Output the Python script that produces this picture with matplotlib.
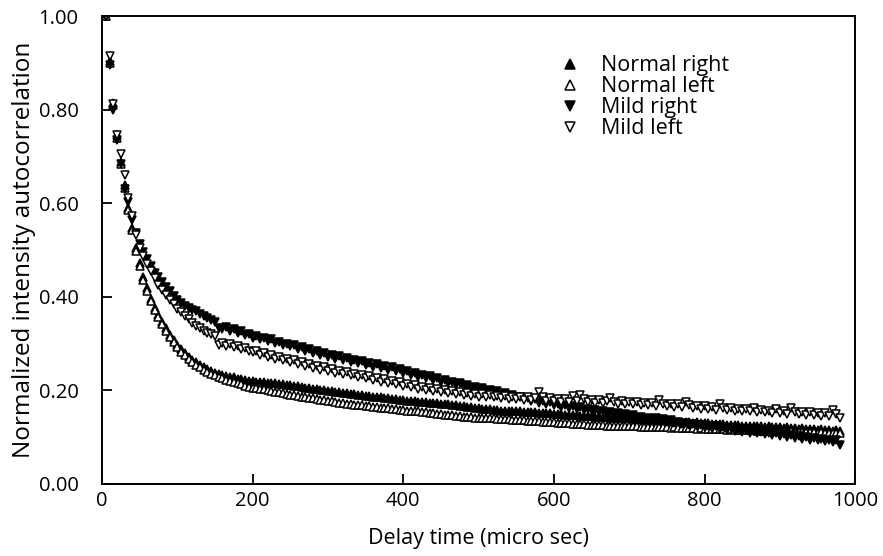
import numpy as np
import matplotlib
matplotlib.use("Agg")
import matplotlib.pyplot as plt

plt.rcParams['font.family'] = ['Open Sans', 'DejaVu Sans']

# delay times (micro sec), one sample every 5 us
delay = list(range(5, 985, 5))

normal_right = [
    1.000, 0.905, 0.815, 0.745, 0.688, 0.638, 0.590, 0.548, 0.505, 0.472,
    0.442, 0.418, 0.396, 0.377, 0.361, 0.346, 0.333, 0.319, 0.308, 0.297,
    0.288, 0.280, 0.272, 0.266, 0.260, 0.254, 0.250, 0.245, 0.241, 0.238,
    0.236, 0.233, 0.231, 0.229, 0.228, 0.225, 0.224, 0.222, 0.221, 0.220,
    0.219, 0.218, 0.218, 0.216, 0.215, 0.215, 0.213, 0.214, 0.212, 0.211,
    0.210, 0.209, 0.207, 0.206, 0.205, 0.203, 0.202, 0.201, 0.200, 0.199,
    0.198, 0.197, 0.196, 0.195, 0.194, 0.192, 0.192, 0.190, 0.190, 0.189,
    0.188, 0.187, 0.186, 0.185, 0.184, 0.183, 0.182, 0.181, 0.180, 0.179,
    0.178, 0.178, 0.177, 0.176, 0.176, 0.175, 0.174, 0.173, 0.173, 0.172,
    0.171, 0.170, 0.169, 0.168, 0.167, 0.166, 0.165, 0.164, 0.163, 0.162,
    0.161, 0.160, 0.160, 0.159, 0.158, 0.157, 0.157, 0.156, 0.156, 0.155,
    0.155, 0.154, 0.154, 0.153, 0.153, 0.152, 0.152, 0.151, 0.151, 0.150,
    0.150, 0.149, 0.148, 0.148, 0.147, 0.147, 0.146, 0.146, 0.145, 0.145,
    0.144, 0.144, 0.143, 0.143, 0.142, 0.142, 0.141, 0.141, 0.140, 0.140,
    0.139, 0.139, 0.138, 0.138, 0.137, 0.137, 0.136, 0.136, 0.135, 0.135,
    0.134, 0.134, 0.133, 0.133, 0.132, 0.133, 0.131, 0.132, 0.130, 0.131,
    0.130, 0.129, 0.129, 0.128, 0.128, 0.127, 0.127, 0.126, 0.126, 0.125,
    0.125, 0.124, 0.125, 0.123, 0.124, 0.122, 0.123, 0.121, 0.122, 0.121,
    0.120, 0.121, 0.119, 0.120, 0.118, 0.119, 0.117, 0.118, 0.117, 0.116,
    0.117, 0.115, 0.116, 0.114, 0.115, 0.113,
]

normal_left = [
    1.000, 0.900, 0.810, 0.740, 0.683, 0.632, 0.585, 0.542, 0.498, 0.465,
    0.437, 0.413, 0.391, 0.372, 0.356, 0.341, 0.328, 0.315, 0.303, 0.293,
    0.283, 0.275, 0.267, 0.261, 0.255, 0.249, 0.244, 0.240, 0.236, 0.232,
    0.229, 0.226, 0.223, 0.220, 0.218, 0.215, 0.213, 0.210, 0.208, 0.206,
    0.205, 0.203, 0.202, 0.200, 0.199, 0.197, 0.196, 0.194, 0.192, 0.191,
    0.190, 0.188, 0.187, 0.186, 0.184, 0.183, 0.181, 0.180, 0.179, 0.178,
    0.177, 0.176, 0.174, 0.173, 0.172, 0.170, 0.169, 0.168, 0.168, 0.167,
    0.166, 0.165, 0.164, 0.163, 0.163, 0.162, 0.161, 0.160, 0.159, 0.158,
    0.157, 0.156, 0.156, 0.155, 0.154, 0.153, 0.152, 0.151, 0.150, 0.149,
    0.148, 0.147, 0.147, 0.146, 0.145, 0.144, 0.144, 0.143, 0.142, 0.142,
    0.141, 0.141, 0.140, 0.140, 0.139, 0.139, 0.138, 0.138, 0.137, 0.137,
    0.136, 0.136, 0.135, 0.135, 0.134, 0.134, 0.133, 0.133, 0.132, 0.132,
    0.131, 0.131, 0.130, 0.130, 0.129, 0.129, 0.128, 0.128, 0.127, 0.127,
    0.126, 0.126, 0.126, 0.125, 0.125, 0.125, 0.124, 0.124, 0.124, 0.123,
    0.123, 0.123, 0.122, 0.122, 0.122, 0.122, 0.121, 0.121, 0.121, 0.121,
    0.120, 0.121, 0.120, 0.119, 0.120, 0.119, 0.119, 0.118, 0.119, 0.118,
    0.118, 0.117, 0.118, 0.117, 0.117, 0.116, 0.117, 0.116, 0.116, 0.115,
    0.116, 0.115, 0.115, 0.114, 0.115, 0.114, 0.114, 0.113, 0.114, 0.113,
    0.113, 0.112, 0.113, 0.112, 0.112, 0.111, 0.112, 0.111, 0.111, 0.110,
    0.111, 0.110, 0.110, 0.109, 0.110, 0.108,
]

mild_right = [
    1.000, 0.895, 0.800, 0.735, 0.685, 0.630, 0.602, 0.565, 0.536, 0.512,
    0.496, 0.481, 0.466, 0.452, 0.442, 0.431, 0.421, 0.413, 0.401, 0.393,
    0.386, 0.380, 0.377, 0.372, 0.369, 0.364, 0.358, 0.355, 0.351, 0.346,
    0.334, 0.332, 0.336, 0.328, 0.331, 0.322, 0.326, 0.318, 0.321, 0.313,
    0.316, 0.309, 0.312, 0.305, 0.309, 0.301, 0.304, 0.297, 0.300, 0.294,
    0.297, 0.288, 0.292, 0.284, 0.289, 0.280, 0.284, 0.276, 0.280, 0.272,
    0.276, 0.268, 0.273, 0.264, 0.270, 0.261, 0.266, 0.259, 0.262, 0.255,
    0.259, 0.251, 0.256, 0.248, 0.252, 0.244, 0.249, 0.241, 0.245, 0.237,
    0.241, 0.233, 0.237, 0.229, 0.234, 0.226, 0.230, 0.222, 0.226, 0.219,
    0.222, 0.215, 0.219, 0.211, 0.215, 0.208, 0.212, 0.205, 0.208, 0.201,
    0.205, 0.198, 0.201, 0.194, 0.198, 0.191, 0.194, 0.188, 0.191, 0.184,
    0.187, 0.181, 0.184, 0.178, 0.181, 0.174, 0.178, 0.171, 0.175, 0.168,
    0.172, 0.165, 0.169, 0.163, 0.166, 0.160, 0.164, 0.158, 0.161, 0.155,
    0.159, 0.153, 0.156, 0.150, 0.154, 0.148, 0.151, 0.146, 0.149, 0.143,
    0.147, 0.141, 0.144, 0.139, 0.142, 0.137, 0.140, 0.134, 0.138, 0.132,
    0.136, 0.130, 0.133, 0.128, 0.131, 0.126, 0.129, 0.124, 0.127, 0.122,
    0.125, 0.120, 0.123, 0.118, 0.121, 0.116, 0.119, 0.114, 0.117, 0.112,
    0.115, 0.110, 0.113, 0.108, 0.111, 0.106, 0.110, 0.104, 0.108, 0.102,
    0.106, 0.100, 0.104, 0.098, 0.102, 0.097, 0.100, 0.095, 0.099, 0.093,
    0.097, 0.092, 0.095, 0.090, 0.093, 0.084,
]

mild_left = [
    1.000, 0.915, 0.812, 0.745, 0.705, 0.660, 0.612, 0.572, 0.532, 0.505,
    0.488, 0.470, 0.455, 0.440, 0.426, 0.415, 0.404, 0.394, 0.385, 0.375,
    0.368, 0.360, 0.352, 0.345, 0.338, 0.333, 0.327, 0.323, 0.320, 0.316,
    0.298, 0.302, 0.296, 0.300, 0.292, 0.296, 0.288, 0.291, 0.284, 0.282,
    0.285, 0.276, 0.280, 0.271, 0.276, 0.268, 0.272, 0.264, 0.268, 0.260,
    0.265, 0.256, 0.261, 0.252, 0.257, 0.248, 0.252, 0.244, 0.249, 0.241,
    0.246, 0.238, 0.242, 0.235, 0.240, 0.232, 0.236, 0.229, 0.233, 0.226,
    0.230, 0.223, 0.227, 0.219, 0.224, 0.216, 0.220, 0.213, 0.217, 0.210,
    0.214, 0.207, 0.211, 0.204, 0.208, 0.201, 0.206, 0.199, 0.203, 0.197,
    0.201, 0.195, 0.199, 0.192, 0.197, 0.190, 0.195, 0.189, 0.193, 0.187,
    0.192, 0.186, 0.190, 0.185, 0.189, 0.183, 0.188, 0.182, 0.186, 0.181,
    0.186, 0.180, 0.185, 0.179, 0.184, 0.196, 0.185, 0.178, 0.183, 0.177,
    0.182, 0.176, 0.181, 0.175, 0.188, 0.177, 0.190, 0.181, 0.175, 0.180,
    0.174, 0.179, 0.173, 0.178, 0.184, 0.176, 0.171, 0.177, 0.170, 0.176,
    0.170, 0.175, 0.169, 0.174, 0.168, 0.173, 0.167, 0.180, 0.172, 0.166,
    0.171, 0.165, 0.170, 0.164, 0.176, 0.168, 0.162, 0.167, 0.161, 0.166,
    0.160, 0.165, 0.159, 0.171, 0.163, 0.158, 0.162, 0.157, 0.161, 0.156,
    0.160, 0.155, 0.163, 0.154, 0.158, 0.153, 0.157, 0.152, 0.160, 0.151,
    0.155, 0.150, 0.162, 0.153, 0.149, 0.154, 0.148, 0.153, 0.147, 0.152,
    0.146, 0.151, 0.145, 0.158, 0.150, 0.140,
]

labels = ["Normal right", "Normal left", "Mild right", "Mild left"]
x_ticks = [0, 200, 400, 600, 800, 1000]
y_ticks = [0.0, 0.2, 0.4, 0.6, 0.8, 1.0]

fig = plt.figure(figsize=(8.83, 5.56), dpi=100)
ax = fig.add_axes([0.1155, 0.1295, 0.853, 0.8415])

styles = [
    (normal_right, '^', 'black'),
    (normal_left, '^', 'white'),
    (mild_right, 'v', 'black'),
    (mild_left, 'v', 'white'),
]
handles = []
for (vals, mk, face), lab in zip(styles, labels):
    n = min(len(delay), len(vals))
    h, = ax.plot(delay[:n], vals[:n], linestyle='none', marker=mk, markersize=6.2,
                 markerfacecolor=face, markeredgecolor='black', markeredgewidth=1.1,
                 label=lab)
    handles.append(h)

ax.set_xlim(0, 1000)
ax.set_ylim(0, 1.0)
ax.set_xticks(x_ticks)
ax.set_yticks(y_ticks)
ax.set_xticklabels([str(v) for v in x_ticks])
ax.set_yticklabels(["%.2f" % v for v in y_ticks])
ax.tick_params(direction='in', length=7, width=1.3, labelsize=14.5)
ax.tick_params(axis='y', pad=17)
ax.tick_params(axis='x', pad=5)
for s in ax.spines.values():
    s.set_linewidth(1.4)
ax.set_xlabel("Delay time (micro sec)", fontsize=15.5, labelpad=12)
ax.set_ylabel("Normalized intensity autocorrelation", fontsize=17.5, labelpad=2)

leg = ax.legend(handles=handles, loc='upper left', bbox_to_anchor=(0.596, 0.935),
                frameon=False, fontsize=15.5, handlelength=1.0, handletextpad=0.95,
                labelspacing=0.0, markerscale=1.2, borderaxespad=0)

fig.savefig("out.png", dpi=100)
